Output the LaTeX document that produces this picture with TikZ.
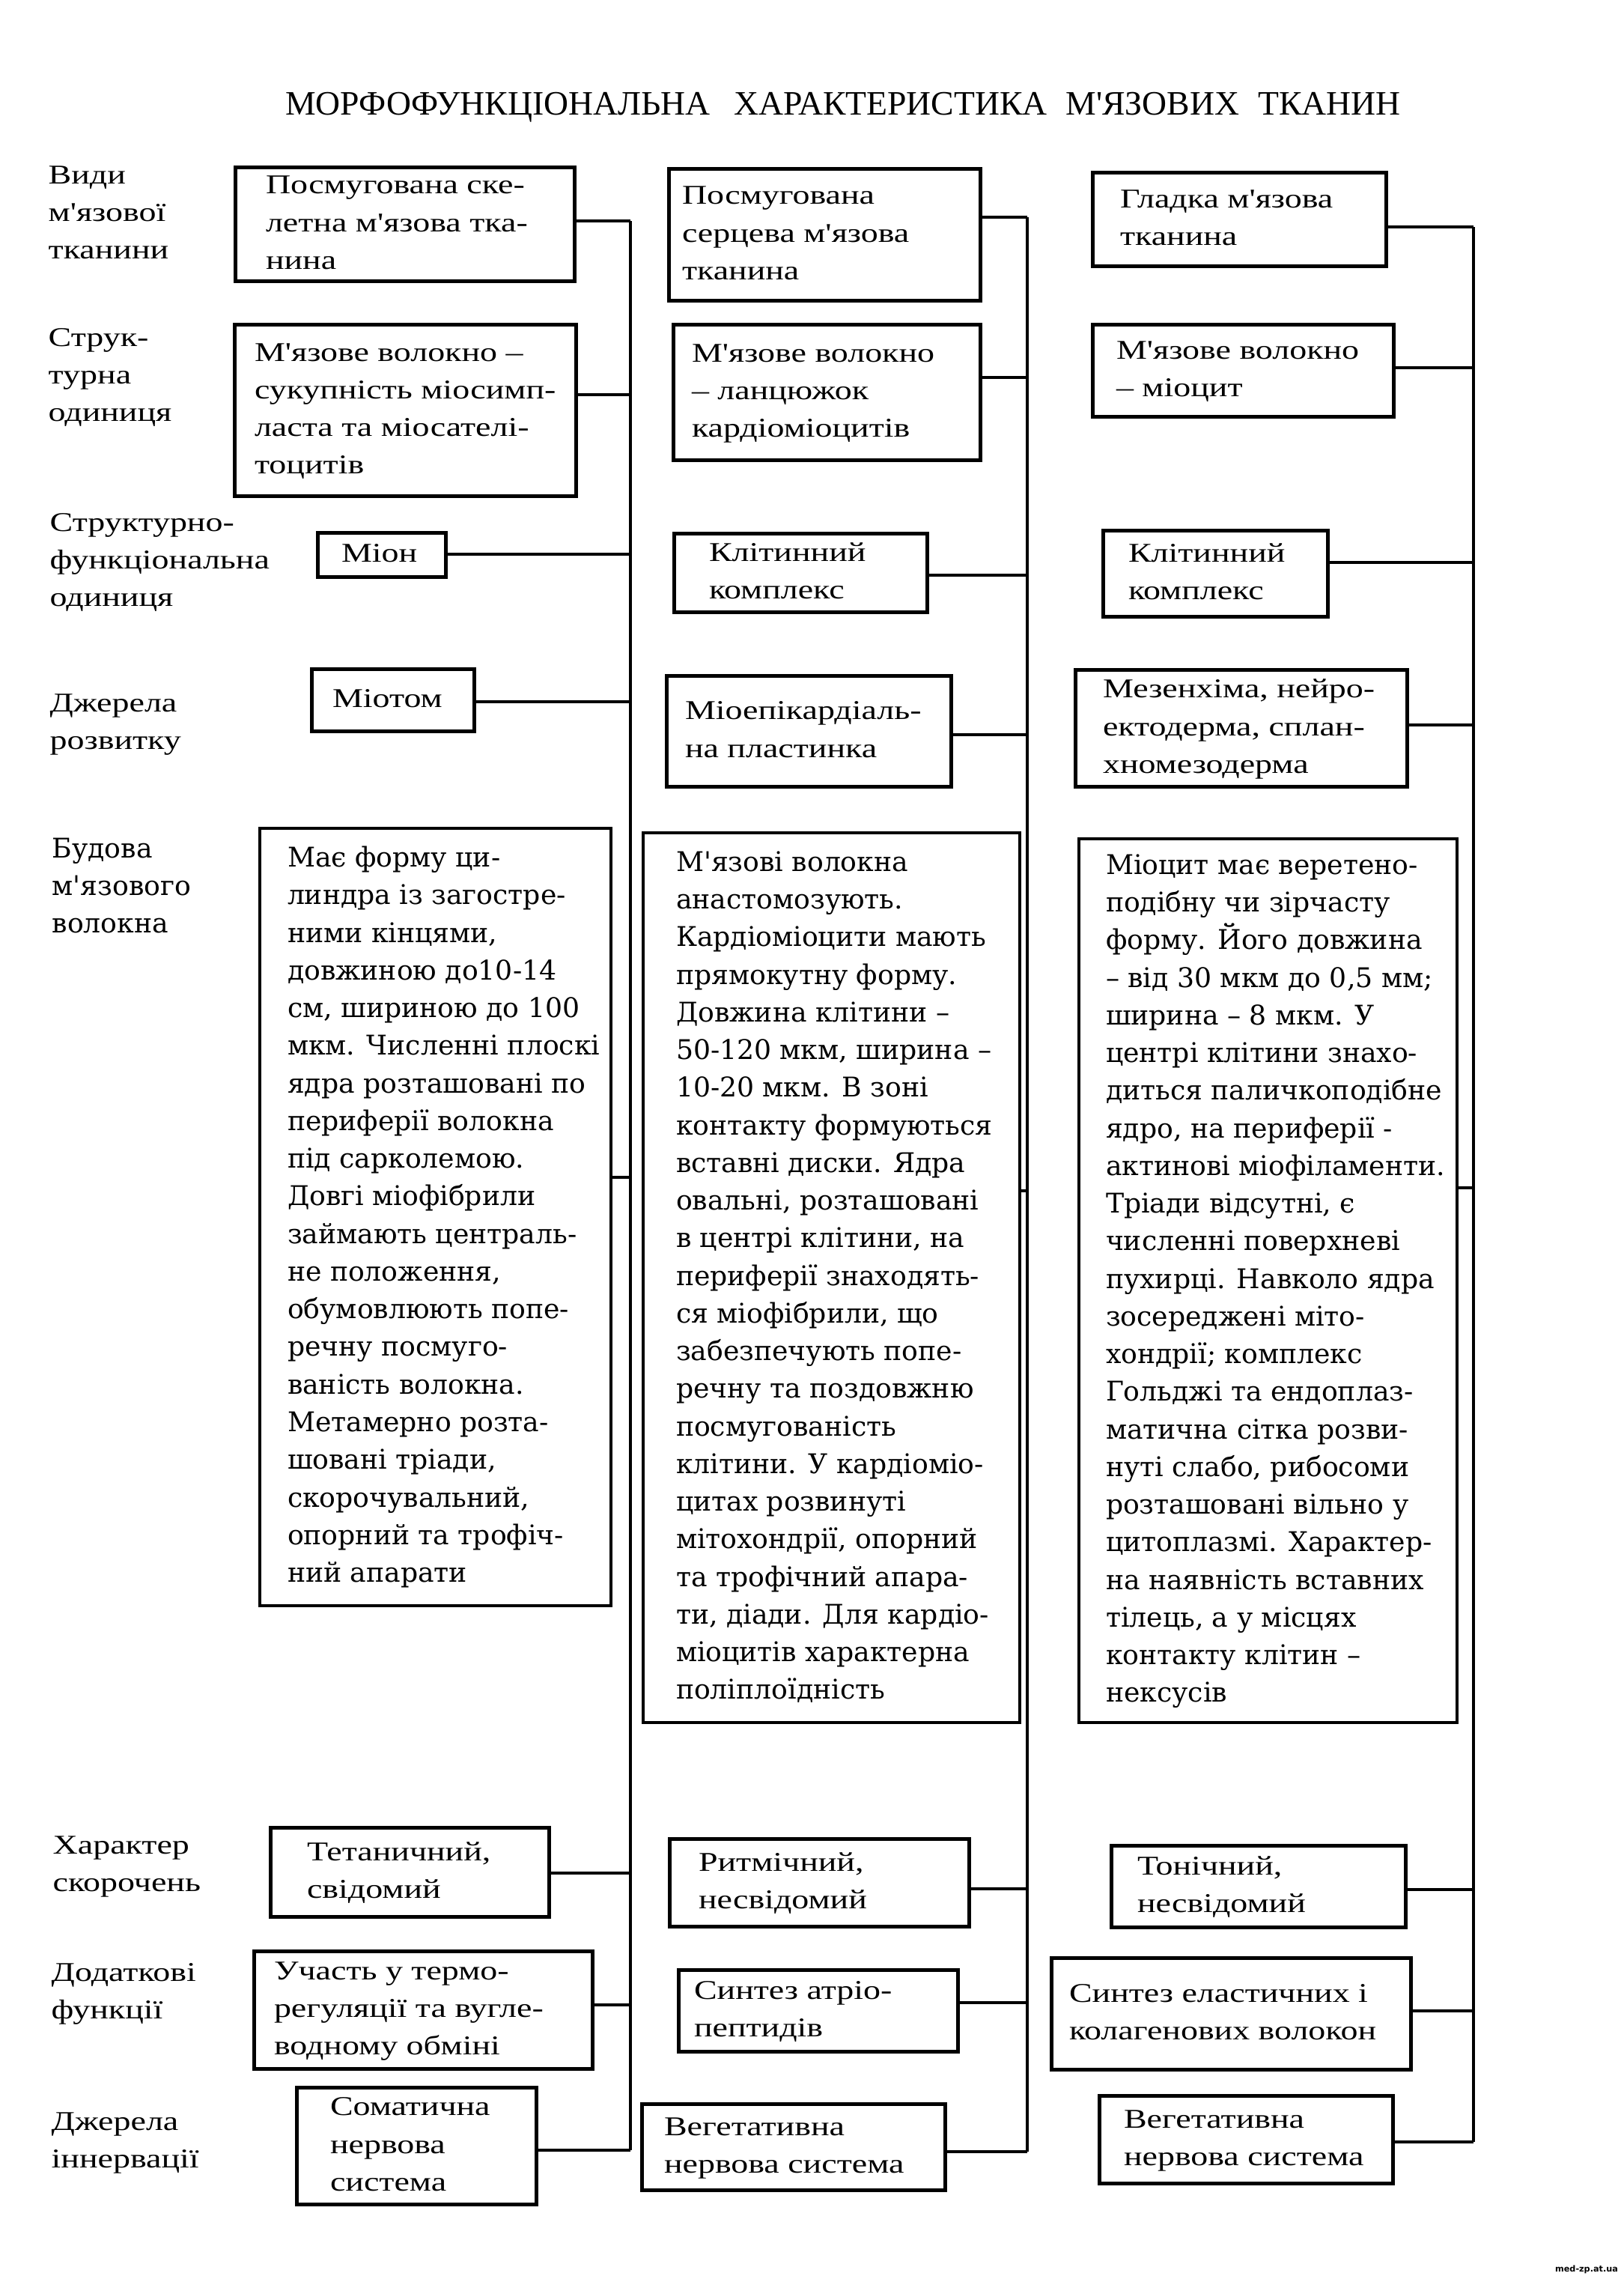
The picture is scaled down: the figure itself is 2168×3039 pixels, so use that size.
\documentclass[tikz,border=0pt]{standalone}
\usepackage{fontspec}
\newfontfamily\sfnt[FakeStretch=1.27]{Liberation Serif}
\newfontfamily\tfnt{Liberation Serif}
\newfontfamily\wfnt{DejaVu Serif}
\newfontfamily\mfnt{DejaVu Sans}
\newcommand\tl[1]{\begin{tabular}[t]{@{}l@{}}#1\end{tabular}}
\newcommand\tc[1]{\begin{tabular}{@{}l@{}}#1\end{tabular}}
\newcommand\bx[8][]{%
  \pgfmathsetmacro\bxW{(#5-#3)/10}%
  \pgfmathsetmacro\bxH{(#6-#4)/10}%
  \pgfmathsetmacro\bxP{#7/10}%
  \pgfmathsetmacro\bxT{(#5-#3-2*#7)/10}%
  \node[box,#1,anchor=north west,minimum width=\bxW mm,minimum height=\bxH mm,inner xsep=\bxP mm] (#2) at (#3,#4) {\makebox[\bxT mm][l]{\tc{#8}}};%
}
\begin{document}
\begin{tikzpicture}[x=0.1mm,y=-0.1mm,
  box/.style={draw,line width=0.5mm,inner ysep=0pt,outer sep=0pt,font=\sfnt\fontsize{10.3}{14.3}\selectfont},
  big/.style={line width=0.36mm,font=\wfnt\fontsize{10.3}{14.3}\selectfont},
  conn/.style={line width=0.48mm},
  trunk/.style={line width=0.34mm},
  lab/.style={anchor=base west,inner sep=0pt,font=\sfnt\fontsize{10.3}{14.3}\selectfont},
  wlab/.style={anchor=base west,inner sep=0pt,font=\wfnt\fontsize{10.3}{14.3}\selectfont}]
\fill[white] (0,0) rectangle (2168,3039);
\useasboundingbox (0,0) rectangle (2168,3039);

% title
\node[anchor=base,inner sep=0pt,font=\tfnt\fontsize{13}{15}\selectfont] (title) at (1126,153)
  {МОРФОФУНКЦІОНАЛЬНА\hspace{3.2mm}ХАРАКТЕРИСТИКА\hspace{2.5mm}М'ЯЗОВИХ\hspace{2.5mm}ТКАНИН};

% row labels
\node[lab] (l1) at (64,245) {\tl{Види\\м'язової\\тканини}};
\node[lab] (l2) at (64,462) {\tl{Струк-\\турна\\одиниця}};
\node[lab] (l3) at (66,709) {\tl{Структурно-\\функціональна\\одиниця}};
\node[lab] (l4) at (66,950) {\tl{Джерела\\розвитку}};
\node[wlab] (l5) at (69,1145) {\tl{Будова\\м'язового\\волокна}};
\node[lab] (l6) at (70,2475) {\tl{Характер\\скорочень}};
\node[lab] (l7) at (68,2645) {\tl{Додаткові\\функції}};
\node[lab] (l8) at (68,2844) {\tl{Джерела\\іннервації}};

% column 1
\bx{A1}{314}{223}{767}{375}{41}{Посмугована ске-\\летна м'язова тка-\\нина}
\bx{A2}{313}{433}{769}{662}{27}{М'язове волокно –\\сукупність міосимп-\\ласта та міосателі-\\тоцитів}
\bx{A3}{424}{711}{595}{770}{32}{Міон}
\bx{A4}{416}{893}{633}{976}{28}{Міотом}
\bx[big]{A5}{347}{1106}{816}{2144}{37}{Має форму ци-\\линдра із загостре-\\ними кінцями,\\довжиною до10-14\\см, шириною до 100\\мкм. Численні плоскі\\ядра розташовані по\\периферії волокна\\під сарколемою.\\Довгі міофібрили\\займають централь-\\не положення,\\обумовлюють попе-\\речну посмуго-\\ваність волокна.\\Метамерно розта-\\шовані тріади,\\скорочувальний,\\опорний та трофіч-\\ний апарати}
\bx{A6}{361}{2440}{733}{2559}{49}{Тетаничний,\\свідомий}
\bx{A7}{339}{2605}{791}{2762}{27}{Участь у термо-\\регуляції та вугле-\\водному обміні}
\bx{A8}{396}{2787}{716}{2943}{45}{Соматична\\нервова\\система}

% column 2
\bx{B1}{893}{225}{1309}{401}{18}{Посмугована\\серцева м'язова\\тканина}
\bx{B2}{899}{433}{1309}{614}{25}{М'язове волокно\\– ланцюжок\\кардіоміоцитів}
\bx{B3}{900}{712}{1238}{817}{47}{Клітинний\\комплекс}
\bx{B4}{890}{902}{1270}{1050}{25}{Міоепікардіаль-\\на пластинка}
\bx[big]{B5}{859}{1112}{1362}{2300}{44}{М'язові волокна\\анастомозують.\\Кардіоміоцити мають\\прямокутну форму.\\Довжина клітини –\\50-120 мкм, ширина –\\10-20 мкм. В зоні\\контакту формуються\\вставні диски. Ядра\\овальні, розташовані\\в центрі клітини, на\\периферії знаходять-\\ся міофібрили, що\\забезпечують попе-\\речну та поздовжню\\посмугованість\\клітини. У кардіоміо-\\цитах розвинуті\\мітохондрії, опорний\\та трофічний апара-\\ти, діади. Для кардіо-\\міоцитів характерна\\поліплоїдність}
\bx{B6}{894}{2455}{1294}{2572}{39}{Ритмічний,\\несвідомий}
\bx{B7}{906}{2630}{1279}{2739}{21}{Синтез атріо-\\пептидів}
\bx{B8}{857}{2809}{1262}{2924}{30}{Вегетативна\\нервова система}

% column 3
\bx{C1}{1459}{230}{1851}{355}{37}{Гладка м'язова\\тканина}
\bx{C2}{1459}{433}{1861}{556}{32}{М'язове волокно\\– міоцит}
\bx{C3}{1473}{708}{1773}{823}{34}{Клітинний\\комплекс}
\bx{C4}{1436}{894}{1879}{1050}{37}{Мезенхіма, нейро-\\ектодерма, сплан-\\хномезодерма}
\bx[big]{C5}{1441}{1120}{1946}{2300}{36}{Міоцит має веретено-\\подібну чи зірчасту\\форму. Його довжина\\– від 30 мкм до 0,5 мм;\\ширина – 8 мкм. У\\центрі клітини знахо-\\диться паличкоподібне\\ядро, на периферії -\\актинові міофіламенти.\\Тріади відсутні, є\\численні поверхневі\\пухирці. Навколо ядра\\зосереджені міто-\\хондрії; комплекс\\Гольджі та ендоплаз-\\матична сітка розви-\\нуті слабо, рибосоми\\розташовані вільно у\\цитоплазмі. Характер-\\на наявність вставних\\тілець, а у місцях\\контакту клітин –\\нексусів}
\bx{C6}{1484}{2464}{1877}{2573}{35}{Тонічний,\\несвідомий}
\bx{C7}{1404}{2614}{1884}{2763}{24}{Синтез еластичних і\\колагенових волокон}
\bx{C8}{1468}{2798}{1860}{2915}{33}{Вегетативна\\нервова система}

% junctions on the trunks
\coordinate (a1) at (842,295);  \coordinate (a2) at (842,527);
\coordinate (a3) at (842,740);  \coordinate (a4) at (842,937);
\coordinate (a5) at (842,1572); \coordinate (a6) at (842,2501);
\coordinate (a7) at (842,2677); \coordinate (a8) at (842,2871);
\coordinate (b1) at (1372,290);  \coordinate (b2) at (1372,504);
\coordinate (b3) at (1372,768);  \coordinate (b4) at (1372,981);
\coordinate (b5) at (1372,1590); \coordinate (b6) at (1372,2522);
\coordinate (b7) at (1372,2674); \coordinate (b8) at (1372,2873);
\coordinate (c1) at (1968,303);  \coordinate (c2) at (1968,491);
\coordinate (c3) at (1968,751);  \coordinate (c4) at (1968,968);
\coordinate (c5) at (1968,1586); \coordinate (c6) at (1968,2523);
\coordinate (c7) at (1968,2685); \coordinate (c8) at (1968,2860);

\foreach \n in {1,...,8}{
  \draw[conn] (A\n.east |- a\n) -- (a\n);
  \draw[conn] (B\n.east |- b\n) -- (b\n);
  \draw[conn] (C\n.east |- c\n) -- (c\n);
}
\draw[trunk] (a1) -- (a8);
\draw[trunk] (b1) -- (b8);
\draw[trunk] (c1) -- (c8);

% watermark
\node[inner sep=0pt,font=\mfnt\bfseries\fontsize{3.2}{4}\selectfont] (wm) at (2119,3030) {med-zp.at.ua};
\end{tikzpicture}
\end{document}
